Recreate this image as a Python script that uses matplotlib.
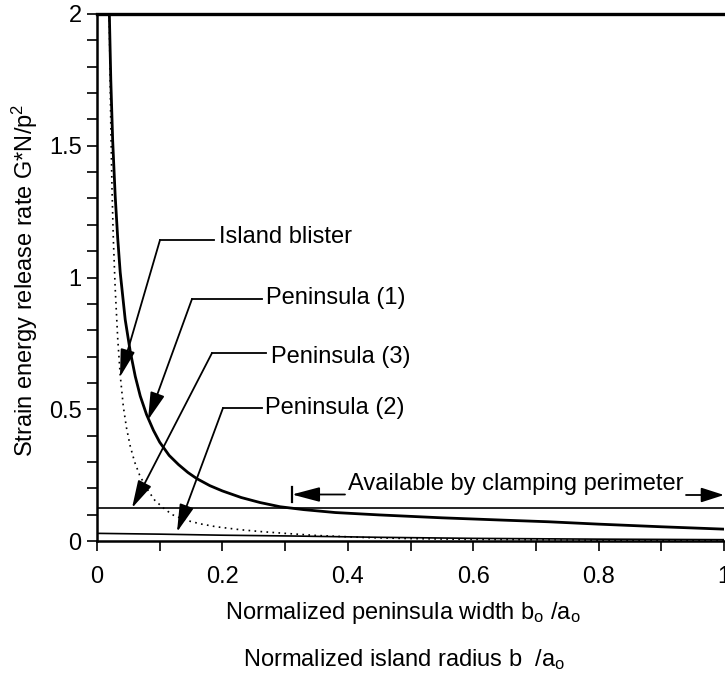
import matplotlib
matplotlib.use("Agg")
import matplotlib.pyplot as plt
import numpy as np

# ---- data ----
pen1_x = [0.0197, 0.022, 0.025, 0.029, 0.033, 0.037, 0.045, 0.053, 0.061, 0.069, 0.079, 0.09, 0.10,
          0.115, 0.13, 0.145, 0.159, 0.18, 0.20, 0.23, 0.26, 0.292, 0.33, 0.38, 0.45, 0.55, 0.65,
          0.72, 0.80, 0.90, 1.00]
pen1_y = [2.0, 1.75, 1.52, 1.31, 1.15, 1.02, 0.84, 0.72, 0.625, 0.55, 0.48, 0.42, 0.375,
          0.325, 0.29, 0.26, 0.237, 0.21, 0.19, 0.165, 0.146, 0.130, 0.119, 0.108, 0.099, 0.088, 0.079,
          0.073, 0.064, 0.054, 0.045]

island_x = [0.0195, 0.022, 0.024, 0.026, 0.029, 0.033, 0.037, 0.042, 0.047, 0.053, 0.060, 0.068, 0.079,
            0.092, 0.106, 0.12, 0.14, 0.165, 0.19, 0.228, 0.26, 0.30, 0.35, 0.43, 0.5, 0.6, 0.8, 1.0]
island_y = [2.0, 1.58, 1.33, 1.15, 0.96, 0.77, 0.63, 0.51, 0.43, 0.36, 0.30, 0.25, 0.20,
            0.155, 0.125, 0.100, 0.080, 0.065, 0.054, 0.043, 0.036, 0.029, 0.021, 0.013, 0.009, 0.006, 0.003, 0.002]

pen3_x = [0.0, 1.0]
pen3_y = [0.124, 0.124]

pen2_x = [0.0, 0.1, 0.2, 0.31, 0.45, 0.6, 0.8, 1.0]
pen2_y = [0.029, 0.026, 0.022, 0.019, 0.014, 0.010, 0.007, 0.005]

x_ticks = [0, 0.2, 0.4, 0.6, 0.8, 1.0]
x_ticklabels = ["0", "0.2", "0.4", "0.6", "0.8", "1"]
y_ticks = [0, 0.5, 1, 1.5, 2]
y_ticklabels = ["0", "0.5", "1", "1.5", "2"]

FONT = ["Liberation Sans", "DejaVu Sans"]
plt.rcParams["font.family"] = FONT
plt.rcParams["mathtext.fontset"] = "custom"
plt.rcParams["mathtext.rm"] = "Liberation Sans"
plt.rcParams["mathtext.it"] = "Liberation Sans"
FS = 17

W, H = 725, 682
fig = plt.figure(figsize=(W / 100, H / 100), dpi=100)
L, R, T, B = 97, 724, 14, 541
ax = fig.add_axes([L / W, 1 - B / H, (R - L) / W, (B - T) / H])
ax.set_xlim(0, 1)
ax.set_ylim(0, 2)

ax.plot(pen1_x, pen1_y, color="black", lw=2.0)
ax.plot(island_x, island_y, color="black", lw=1.2, linestyle=(0, (1, 2.6)))
ax.plot(pen3_x, pen3_y, color="black", lw=1.2)
ax.plot(pen2_x, pen2_y, color="black", lw=1.2)

ax.spines["right"].set_visible(False)
ax.spines["top"].set_linewidth(2.4)
ax.spines["left"].set_linewidth(1.8)
ax.spines["bottom"].set_linewidth(1.8)

ax.set_xticks(x_ticks)
ax.set_xticklabels(x_ticklabels)
ax.set_xticks(np.arange(0, 1.01, 0.1), minor=True)
ax.set_yticks(y_ticks)
ax.set_yticklabels(y_ticklabels)
ax.set_yticks(np.arange(0, 2.01, 0.1), minor=True)
ax.tick_params(which="both", direction="out", length=7, width=1.2, top=False, right=False)
ax.tick_params(axis="x", which="major", pad=11, labelsize=FS)
ax.tick_params(axis="y", which="major", pad=4, labelsize=FS)

fig.text(25 / W, 1 - 280 / H, r"Strain energy release rate G*N/p$^2$", rotation=90,
         ha="center", va="center", fontsize=FS)

fig.text(403 / W, 1 - 613 / H, r"Normalized peninsula width b$_\mathrm{o}$ /a$_\mathrm{o}$",
         ha="center", va="center", fontsize=FS)
fig.text(404 / W, 1 - 660 / H, r"Normalized island radius b  /a$_\mathrm{o}$",
         ha="center", va="center", fontsize=FS)

def px2d(px, py):
    return ((px - L) / (R - L), (B - py) / (B - T) * 2)

arrow_kw = dict(arrowstyle="-|>,head_length=1.7,head_width=0.45", color="black", lw=1.3,
                shrinkA=0, shrinkB=0)

def callout(text, tx, ty, hx0, hx1, hy, tipx, tipy):
    ax.text(*px2d(tx, ty), text, fontsize=FS, ha="left", va="center")
    x0, y0 = px2d(hx0, hy)
    x1, y1 = px2d(hx1, hy)
    ax.plot([x0, x1], [y0, y1], color="black", lw=1.3)
    ax.annotate("", xy=px2d(tipx, tipy), xytext=(x0, y0), arrowprops=arrow_kw)

callout("Island blister", 219, 237, 160, 214, 240, 120, 377)
callout("Peninsula (1)", 266, 298, 192, 262, 299, 148, 420)
callout("Peninsula (3)", 271, 357, 212, 266, 353, 132, 508)
callout("Peninsula (2)", 265, 408, 223, 262, 408, 177, 532)

# Available by clamping perimeter
ax.text(*px2d(516, 484), "Available by clamping perimeter", fontsize=FS, ha="center", va="center")
ax.annotate("", xy=px2d(292, 494.5), xytext=px2d(345, 494.5), arrowprops=arrow_kw)
ax.plot(*zip(px2d(292, 487), px2d(292, 502)), color="black", lw=1.6)
arrow_kw2 = dict(arrow_kw)
arrow_kw2["arrowstyle"] = "-|>,head_length=1.4,head_width=0.45"
ax.annotate("", xy=px2d(724, 495), xytext=px2d(686, 495), arrowprops=arrow_kw2, annotation_clip=False)

fig.savefig("out.png", dpi=100)
